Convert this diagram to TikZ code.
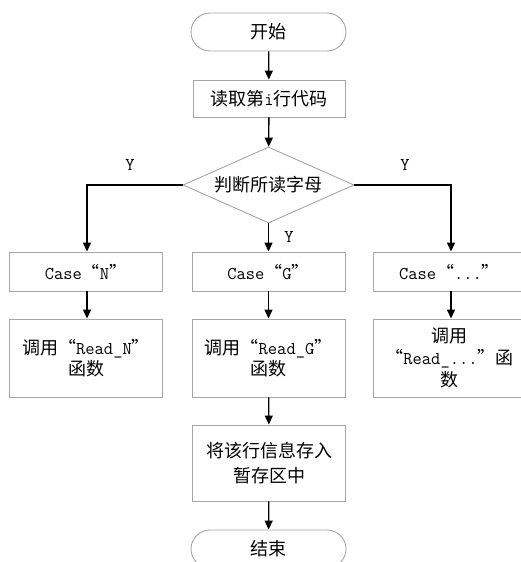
\documentclass[tikz,border=0pt]{standalone}
\usepackage{fontspec}
\newfontfamily\cjk{Noto Sans CJK SC}
\usetikzlibrary{arrows.meta,shapes.geometric,shapes.misc}
\newcommand{\zh}[1]{{\cjk #1}}
\definecolor{boxgray}{HTML}{A6A6A6}
\tikzset{
  base/.style={draw=boxgray, line width=0.9pt, font=\ttfamily\fontsize{18}{21}\selectfont, align=center, inner sep=0pt},
  procbox/.style={base, rectangle, minimum width=#1, minimum height=39pt},
  procbox/.default=153pt,
  bigbox/.style={base, rectangle, minimum width=153pt, minimum height=#1},
  termbox/.style={base, rounded rectangle, minimum width=155pt, minimum height=38pt},
  decbox/.style={base, diamond, minimum width=171pt, minimum height=76pt, aspect=2.25},
  flow/.style={line width=1.3pt, -{Triangle[width=8pt,length=9pt]}},
  lbl/.style={font=\ttfamily\fontsize{18}{18}\selectfont, inner sep=0pt}
}
\begin{document}
\begin{tikzpicture}[x=1pt,y=-1pt]
\useasboundingbox (0,0) rectangle (521,562);
\clip (0,0) rectangle (521,562);
\fill[white] (0,0) rectangle (521,562);
\node[termbox] (start) at (268.5,32) {\zh{开始}};
\node[procbox=152pt, minimum height=37pt] (read) at (269,98.5) {\zh{读取第}i\zh{行代码}};
\node[decbox] (dec) at (268.5,185) {\zh{判断所读字母}};
\node[procbox] (caseN) at (86,271.5) {Case\zh{“}N\zh{”}};
\node[procbox] (caseG) at (268.5,271.5) {Case\zh{“}G\zh{”}};
\node[procbox] (caseX) at (449.5,271.5) {Case\zh{“}...\zh{”}};
\node[bigbox=78pt] (readN) at (86,358) {\zh{调用“}Read\_N\zh{”}\\\zh{函数}};
\node[bigbox=78pt] (readG) at (268.5,358) {\zh{调用“}Read\_G\zh{”}\\\zh{函数}};
\node[bigbox=78pt, font=\ttfamily\fontsize{18}{22}\selectfont] (readX) at (449.5,358) {\zh{调用}\\\zh{“}Read\_...\zh{”函}\\\zh{数}};
\node[bigbox=76pt, font=\ttfamily\fontsize{18}{25}\selectfont] (store) at (269,463) {\zh{将该行信息存入}\\\zh{暂存区中}};
\node[termbox] (stop) at (268.5,549) {\zh{结束}};
\coordinate (lc) at (87,185);
\coordinate (rc) at (451,185);
\draw[flow] (start) -- (read);
\draw[flow] (read) -- (dec);
\draw[flow] (dec.west) -- (lc) -- (caseN.north -| lc);
\draw[flow] (dec.east) -- (rc) -- (caseX.north -| rc);
\draw[flow] (dec.south) -- (caseG.north);
\draw[flow] (caseN.south -| lc) -- (readN.north -| lc);
\draw[flow] (caseG) -- (readG);
\draw[flow] (caseX.south -| rc) -- (readX.north -| rc);
\draw[flow] (readG) -- (store);
\draw[flow] (store) -- (stop);
\node[lbl] (yl) at (130,165) {Y};
\node[lbl] (yr) at (405,165) {Y};
\node[lbl] (ym) at (289,237) {Y};
\end{tikzpicture}
\end{document}
